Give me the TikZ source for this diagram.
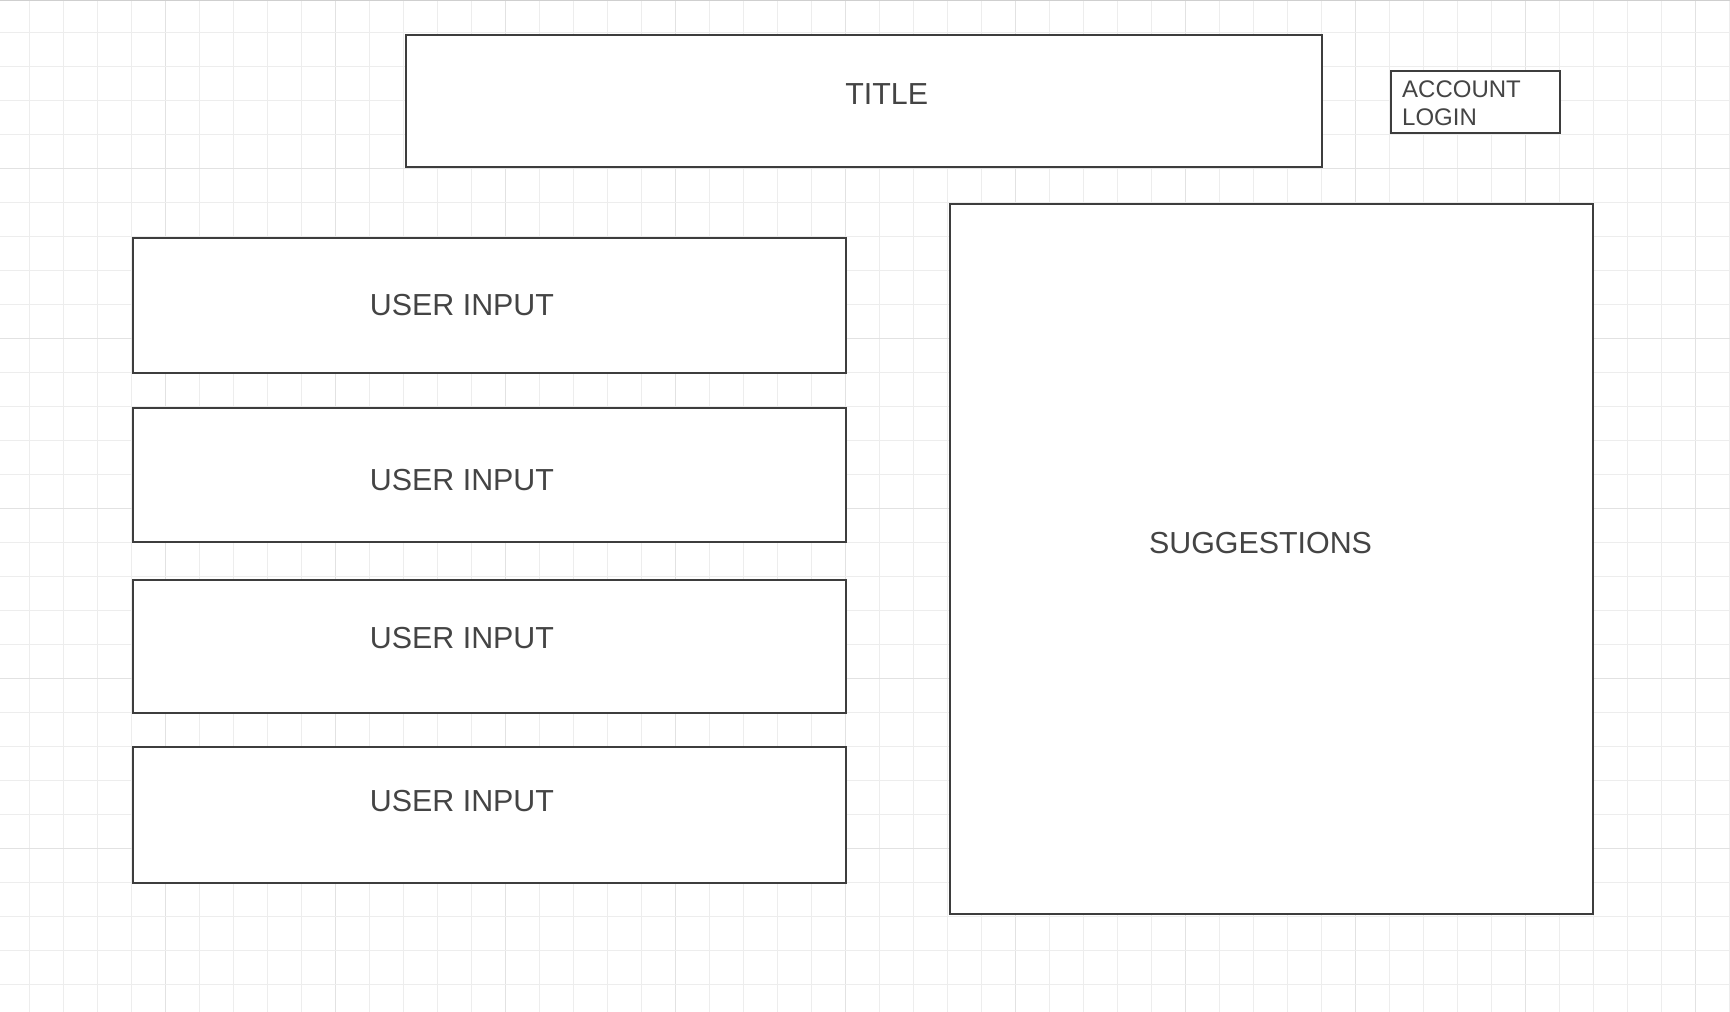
\documentclass[tikz,border=0pt]{standalone}
\usepackage{fontspec}
\setmainfont{Liberation Sans}
\definecolor{gridminor}{HTML}{EDEDED}
\definecolor{gridmajor}{HTML}{E2E2E2}
\definecolor{gridtop}{HTML}{CFCFCF}
\definecolor{boxline}{HTML}{3D3D3D}
\definecolor{txt}{HTML}{444444}
\tikzset{
  wbox/.style={rectangle, draw=boxline, fill=white, line width=2pt, inner sep=0pt, outer sep=0pt},
  bigtxt/.style={text=txt, inner sep=0pt, anchor=base, font=\fontsize{30.4}{36}\selectfont},
  smalltxt/.style={text=txt, inner sep=0pt, anchor=base west, align=left, font=\fontsize{24}{28.4}\selectfont},
}
\begin{document}
\begin{tikzpicture}[x=1pt,y=-1pt]
\useasboundingbox (0,0) rectangle (1730,1012);
\fill[white] (0,0) rectangle (1730,1012);
% grid
\foreach \k in {0,...,50} {
  \pgfmathsetmacro{\xx}{29+34*\k}
  \pgfmathtruncatemacro{\m}{mod(\k,5)}
  \ifnum\m=4
    \draw[gridmajor, line width=1pt] (\xx,0) -- (\xx,1012);
  \else
    \draw[gridminor, line width=1pt] (\xx,0) -- (\xx,1012);
  \fi
}
\foreach \k in {0,...,28} {
  \pgfmathsetmacro{\yy}{32.7+34*\k}
  \pgfmathtruncatemacro{\m}{mod(\k,5)}
  \ifnum\m=4
    \draw[gridmajor, line width=1pt] (0,\yy) -- (1730,\yy);
  \else
    \draw[gridminor, line width=1pt] (0,\yy) -- (1730,\yy);
  \fi
}
\draw[gridtop, line width=1.2pt] (0,0.6) -- (1730,0.6);
% boxes
\node[wbox, minimum width=916pt, minimum height=132pt] (title) at (864,101) {};
\node[wbox, minimum width=169pt, minimum height=61.5pt] (account) at (1475.5,101.75) {};
\node[wbox, minimum width=713.3pt, minimum height=135pt] (in1) at (489.35,305.2) {};
\node[wbox, minimum width=713.3pt, minimum height=133.7pt] (in2) at (489.35,474.85) {};
\node[wbox, minimum width=713.3pt, minimum height=132.4pt] (in3) at (489.35,646.5) {};
\node[wbox, minimum width=713.3pt, minimum height=135.6pt] (in4) at (489.35,814.8) {};
\node[wbox, minimum width=643pt, minimum height=709.5pt] (sugg) at (1271.5,558.75) {};
% texts
\node[bigtxt] (titletxt) at (886.7,104.3) {TITLE};
\node[bigtxt] (in1txt) at (462,315) {USER INPUT};
\node[bigtxt] (in2txt) at (462,490) {USER INPUT};
\node[bigtxt] (in3txt) at (462,648.5) {USER INPUT};
\node[bigtxt] (in4txt) at (462,811.5) {USER INPUT};
\node[bigtxt] (suggtxt) at (1260.5,553) {SUGGESTIONS};
\node[smalltxt] (acctxt) at (1402,125.7) {ACCOUNT\\LOGIN};
\end{tikzpicture}
\end{document}
